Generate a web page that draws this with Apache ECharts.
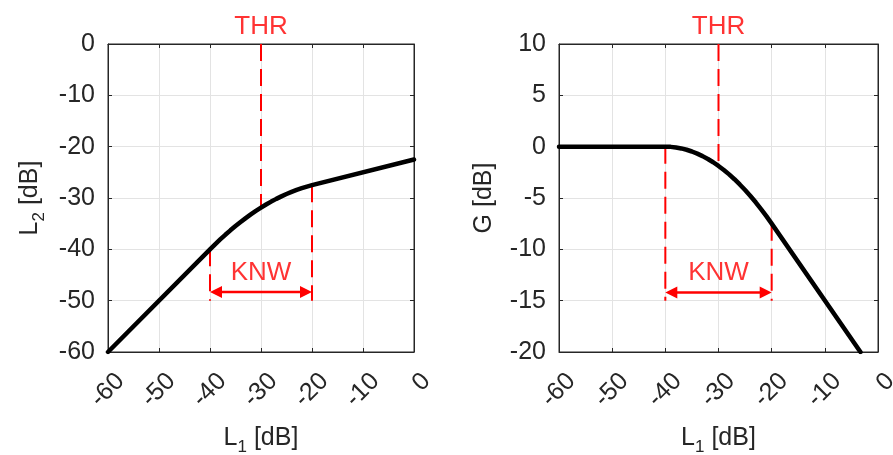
<!DOCTYPE html>
<html>
<head>
<meta charset="utf-8">
<script src="https://cdn.jsdelivr.net/npm/echarts@6/dist/echarts.min.js"></script>
<style>
  html, body { margin: 0; padding: 0; background: #ffffff; }
  #chart { width: 893px; height: 455px; }
</style>
</head>
<body>
<div id="chart"></div>
<script>
// Static compressor characteristic: threshold -30 dB, knee width 20 dB, ratio 4:1
const inputLevel = [-60, -40, -39, -38, -37, -36, -35, -34, -33, -32, -31, -30,
                    -29, -28, -27, -26, -25, -24, -23, -22, -21, -20, 0];
const outputLevel = [-60, -40, -39.02, -38.08, -37.17, -36.3, -35.47, -34.68, -33.92, -33.2, -32.52, -31.88,
                     -31.27, -30.7, -30.17, -29.68, -29.22, -28.8, -28.42, -28.08, -27.77, -27.5, -22.5];

// Gain curve G = L2 - L1
const gainInput = [-60, -40, -39, -38, -37, -36, -35, -34, -33, -32, -31, -30,
                   -29, -28, -27, -26, -25, -24, -23, -22, -21, -20, -3.3];
const gainValue = [0, 0, -0.02, -0.08, -0.17, -0.3, -0.47, -0.68, -0.92, -1.2, -1.52, -1.88,
                   -2.27, -2.7, -3.17, -3.68, -4.22, -4.8, -5.42, -6.08, -6.77, -7.5, -20];

// Axis ranges and tick steps
const xRange = [-60, 0];
const xStep = 10;
const leftYRange = [-60, 0];
const leftYStep = 10;
const rightYRange = [-20, 10];
const rightYStep = 5;

// Annotation levels
const threshold = -30;
const kneeLow = -40;
const kneeHigh = -20;
const leftThrEnd = -31.9;     // curve value at the threshold (L2)
const rightThrEnd = -1.9;     // curve value at the threshold (G)
const leftKneeTop = [-40, -27.5];
const rightKneeTop = [0, -7.5];
const leftKneeBottom = -50;
const rightKneeBottom = -15;
const leftArrowLevel = -48.3;
const rightArrowLevel = -14.2;

const RED = '#ff0000';
const INK = '#262626';
const FONT = 'Liberation Sans, Arial, Helvetica, sans-serif';

const chart = echarts.init(document.getElementById('chart'), null, { renderer: 'canvas' });

const grids = [
  { left: 108, top: 44, width: 306, height: 308 },
  { left: 559, top: 44, width: 319, height: 308 }
];

function nameRich() {
  return {
    n: { fontSize: 25, fontFamily: FONT, color: INK, lineHeight: 36, verticalAlign: 'middle' },
    s: { fontSize: 17, fontFamily: FONT, color: INK, lineHeight: 17, verticalAlign: 'bottom' }
  };
}

function mainX(gridIndex) {
  return {
    type: 'value', gridIndex, min: xRange[0], max: xRange[1], interval: xStep,
    name: '{n|L}{s|1}{n| [dB]}', nameLocation: 'middle', nameGap: 68,
    nameTextStyle: { rich: nameRich() },
    axisLine: { show: true, onZero: false, lineStyle: { color: INK, width: 1 } },
    axisTick: { show: true, inside: true, length: 4, lineStyle: { color: INK } },
    splitLine: { show: true, lineStyle: { color: '#e3e3e3', width: 1 } },
    axisLabel: {
      rotate: 45, margin: 13, fontSize: 25, fontFamily: FONT, color: INK,
      align: 'right', verticalAlign: 'top', padding: [5, 0, 0, 0]
    }
  };
}
function frameX(gridIndex) {
  return {
    type: 'value', gridIndex, position: 'top', min: xRange[0], max: xRange[1], interval: xStep,
    axisLine: { show: true, onZero: false, lineStyle: { color: INK, width: 1 } },
    axisTick: { show: true, inside: true, length: 4, lineStyle: { color: INK } },
    axisLabel: { show: false }, splitLine: { show: false }
  };
}
function mainY(gridIndex, range, step, name, gap) {
  return {
    type: 'value', gridIndex, min: range[0], max: range[1], interval: step,
    name, nameLocation: 'middle', nameGap: gap, nameRotate: 90,
    nameTextStyle: { rich: nameRich() },
    axisLine: { show: true, onZero: false, lineStyle: { color: INK, width: 1 } },
    axisTick: { show: true, inside: true, length: 4, lineStyle: { color: INK } },
    splitLine: { show: true, lineStyle: { color: '#e3e3e3', width: 1 } },
    axisLabel: { margin: 13, fontSize: 25, fontFamily: FONT, color: INK }
  };
}
function frameY(gridIndex, range, step) {
  return {
    type: 'value', gridIndex, position: 'right', min: range[0], max: range[1], interval: step,
    axisLine: { show: true, onZero: false, lineStyle: { color: INK, width: 1 } },
    axisTick: { show: true, inside: true, length: 4, lineStyle: { color: INK } },
    axisLabel: { show: false }, splitLine: { show: false }
  };
}

function pairs(xs, ys) { return xs.map((x, i) => [x, ys[i]]); }

function curve(xi, yi, data) {
  return {
    type: 'line', xAxisIndex: xi, yAxisIndex: yi, data, showSymbol: false, smooth: false,
    lineStyle: { color: '#000000', width: 4.5, cap: 'round', join: 'round' }, z: 5
  };
}
function dashed(xi, yi, data) {
  return {
    type: 'line', xAxisIndex: xi, yAxisIndex: yi, data, showSymbol: false,
    lineStyle: { color: RED, width: 2, type: [17, 8] }, z: 4
  };
}
function textMark(xi, yi, point, text, dist) {
  return {
    type: 'scatter', xAxisIndex: xi, yAxisIndex: yi, data: [point], clip: false,
    symbolSize: 1, itemStyle: { color: 'rgba(0,0,0,0)' }, z: 6,
    label: { show: true, position: 'top', distance: dist, formatter: text,
             fontSize: 26, fontFamily: FONT, color: RED }
  };
}
function arrow(xi, yi, from, to, level) {
  return {
    type: 'custom', xAxisIndex: xi, yAxisIndex: yi, data: [[from, to, level]], z: 6,
    renderItem(params, api) {
      const a = api.coord([api.value(0), api.value(2)]);
      const b = api.coord([api.value(1), api.value(2)]);
      const len = 12, half = 6;
      return {
        type: 'group',
        children: [
          { type: 'line', shape: { x1: a[0] + len - 1, y1: a[1], x2: b[0] - len + 1, y2: b[1] },
            style: { stroke: RED, lineWidth: 2.5 } },
          { type: 'polygon', shape: { points: [[a[0], a[1]], [a[0] + len, a[1] - half], [a[0] + len, a[1] + half]] },
            style: { fill: RED } },
          { type: 'polygon', shape: { points: [[b[0], b[1]], [b[0] - len, b[1] - half], [b[0] - len, b[1] + half]] },
            style: { fill: RED } }
        ]
      };
    }
  };
}

const option = {
  animation: false,
  backgroundColor: '#ffffff',
  grid: grids.map(g => Object.assign({
    show: true, borderColor: INK, borderWidth: 1, backgroundColor: '#ffffff',
    containLabel: false, outerBoundsMode: 'none'
  }, g)),
  xAxis: [mainX(0), frameX(0), mainX(1), frameX(1)],
  yAxis: [
    mainY(0, leftYRange, leftYStep, '{n|L}{s|2}{n| [dB]}', 60),
    frameY(0, leftYRange, leftYStep),
    mainY(1, rightYRange, rightYStep, '{n|G [dB]}', 57),
    frameY(1, rightYRange, rightYStep)
  ],
  series: [
    // left panel: output level
    dashed(0, 0, [[threshold, leftYRange[1]], [threshold, leftThrEnd]]),
    dashed(0, 0, [[kneeLow, leftKneeTop[0]], [kneeLow, leftKneeBottom]]),
    dashed(0, 0, [[kneeHigh, leftKneeTop[1]], [kneeHigh, leftKneeBottom]]),
    curve(0, 0, pairs(inputLevel, outputLevel)),
    arrow(0, 0, kneeLow, kneeHigh, leftArrowLevel),
    textMark(0, 0, [threshold, leftYRange[1]], 'THR', 4),
    textMark(0, 0, [threshold, leftArrowLevel], 'KNW', 6),
    // right panel: gain
    dashed(2, 2, [[threshold, rightYRange[1]], [threshold, rightThrEnd]]),
    dashed(2, 2, [[kneeLow, rightKneeTop[0]], [kneeLow, rightKneeBottom]]),
    dashed(2, 2, [[kneeHigh, rightKneeTop[1]], [kneeHigh, rightKneeBottom]]),
    curve(2, 2, pairs(gainInput, gainValue)),
    arrow(2, 2, kneeLow, kneeHigh, rightArrowLevel),
    textMark(2, 2, [threshold, rightYRange[1]], 'THR', 4),
    textMark(2, 2, [threshold, rightArrowLevel], 'KNW', 6)
  ]
};

chart.setOption(option);
</script>
</body>
</html>
